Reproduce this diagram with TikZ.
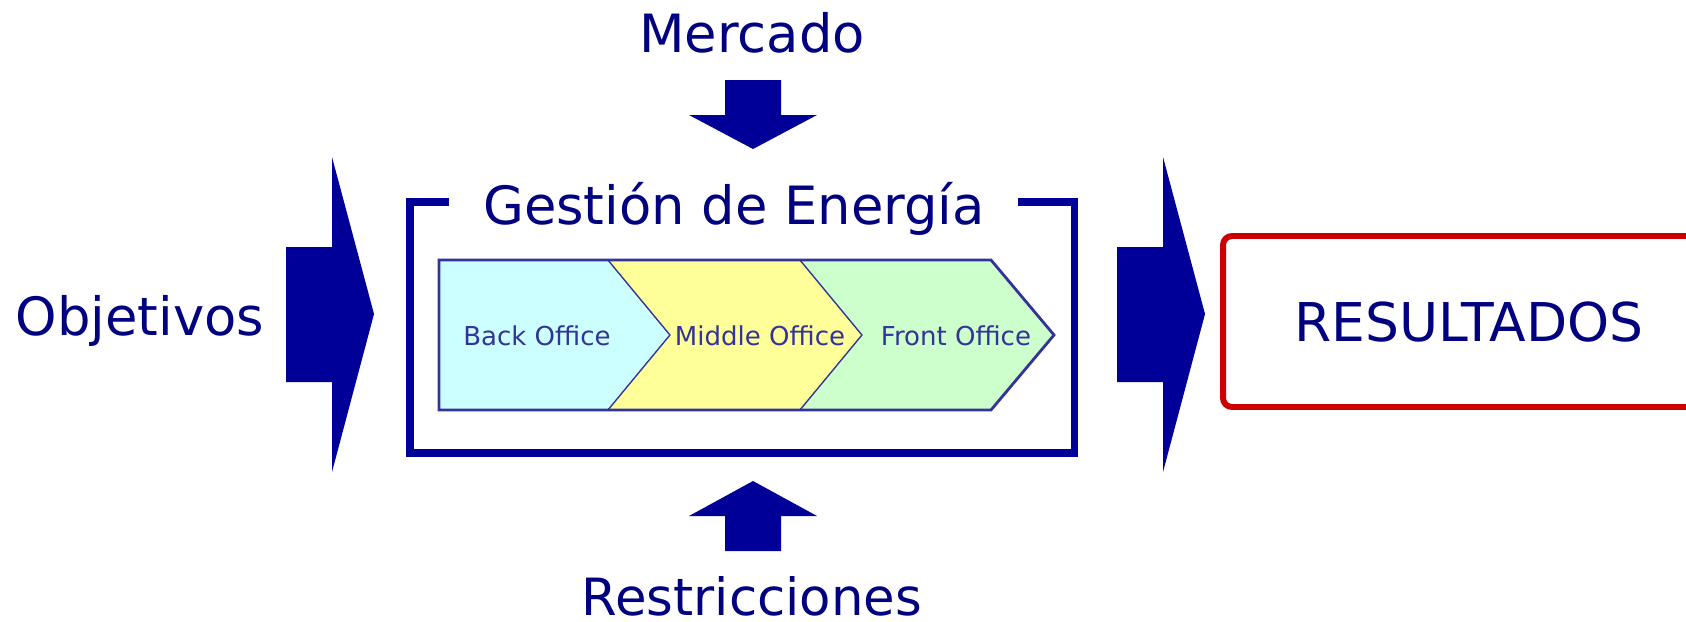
\documentclass[tikz,border=0pt]{standalone}
\usepackage{fontspec}
\setmainfont{DejaVu Sans}
\usepackage{tikz}
\definecolor{navy}{RGB}{0,0,128}
\definecolor{arrowblue}{RGB}{0,0,153}
\definecolor{edgeblue}{RGB}{51,51,153}
\definecolor{backfill}{RGB}{204,255,255}
\definecolor{midfill}{RGB}{255,255,153}
\definecolor{frontfill}{RGB}{204,255,204}
\definecolor{resred}{RGB}{204,0,0}

\begin{document}
\begin{tikzpicture}[x=0.01cm, y=-0.01cm,
    bigtext/.style={anchor=base, inner sep=0pt, text=navy, font=\fontsize{15}{18}\selectfont},
    officetext/.style={anchor=base, inner sep=0pt, text=edgeblue, font=\fontsize{7.4}{9}\selectfont},
    bigarrow/.style={fill=arrowblue, draw=none},
    stage/.style={draw=edgeblue, line width=0.35pt}]
            \clip (0,0) rectangle (1686,621);
            % Labels
            \node[bigtext] (mercado) at (752,52) {Mercado};
            \node[bigtext] (objetivos) at (140,335) {Objetivos};
            \node[bigtext] (gestion) at (734,224) {Gestión de Energía};
            \node[bigtext, font=\fontsize{15.2}{18}\selectfont] (resultados) at (1469,341) {RESULTADOS};
            \node[bigtext, font=\fontsize{14.6}{18}\selectfont] (restricciones) at (752,615) {Restricciones};
            % Side arrows
            \foreach \x in {286,1117} {
                \fill[bigarrow] (\x,247) -- ++(46,0) -- ++(0,-90) -- ++(42,157)
                    -- ++(-42,158) -- ++(0,-90) -- ++(-46,0) -- cycle;
            }
            % Top and bottom arrows
            \fill[bigarrow] (725,80) -- (781,80) -- (781,115) -- (817,115)
                -- (753,149) -- (689,115) -- (725,115) -- cycle;
            \fill[bigarrow] (725,551) -- (781,551) -- (781,516) -- (817,516)
                -- (753,481) -- (689,516) -- (725,516) -- cycle;
            % Frame
            \draw[arrowblue, line width=2pt] (449,202) -- (410,202) -- (410,453)
                -- (1074,453) -- (1074,202) -- (1018,202);
            % Stages
            \filldraw[stage, fill=backfill] (439,260) -- (608,260) -- (670,335)
                -- (608,410) -- (439,410) -- cycle;
            \filldraw[stage, fill=midfill] (608,260) -- (800,260) -- (862,335)
                -- (800,410) -- (608,410) -- (670,335) -- cycle;
            \filldraw[stage, fill=frontfill] (800,260) -- (991,260) -- (1054,335)
                -- (991,410) -- (800,410) -- (862,335) -- cycle;
            \draw[edgeblue, line width=0.8pt, line join=miter] (439,260) -- (991,260)
                -- (1054,335) -- (991,410) -- (439,410) -- cycle;
            \node[officetext] (back) at (537,345) {Back Office};
            \node[officetext] (middle) at (760,345) {Middle Office};
            \node[officetext] (front) at (956,345) {Front Office};
            % Result box
            \draw[resred, line width=1.7pt, rounded corners=0.9mm]
                (1223,236) rectangle (1760,407);
\end{tikzpicture}
\end{document}
